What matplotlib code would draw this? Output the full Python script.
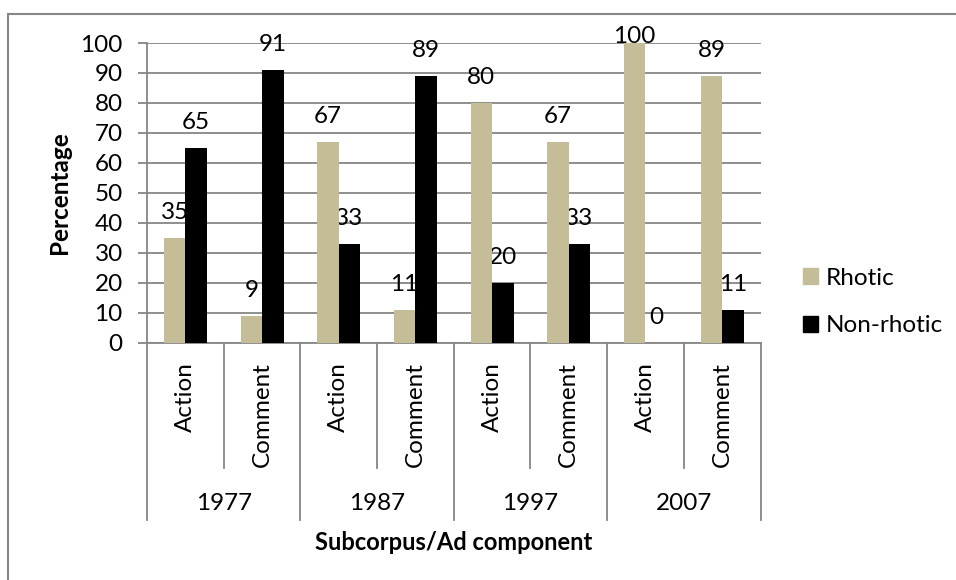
import matplotlib
matplotlib.use("Agg")
import matplotlib.pyplot as plt
import matplotlib.patches as mpatches
from matplotlib.transforms import blended_transform_factory
import numpy as np

plt.rcParams['font.family'] = ['Lato', 'DejaVu Sans']

# ── 데이터 ────────────────────────────────────────────────
years = ["1977", "1987", "1997", "2007"]
components = ["Action", "Comment"]
rhotic = [35, 9, 67, 11, 80, 67, 100, 89]
non_rhotic = [65, 91, 33, 89, 20, 33, 0, 11]
series_names = ["Rhotic", "Non-rhotic"]

TAN = "#C4BD97"
GRID = "#868686"
FS = 17.5

W, H = 956, 580
fig = plt.figure(figsize=(W / 100, H / 100), dpi=100)

# plot area in pixel terms
left, right, top, bottom = 147, 760.5, 43, 342.5
ax = fig.add_axes([left / W, 1 - bottom / H, (right - left) / W, (bottom - top) / H])

n = len(rhotic)
x = np.arange(n) + 0.5
bw = 0.28
ax.bar(x - bw / 2, rhotic, bw, color=TAN, zorder=3, label=series_names[0])
ax.bar(x + bw / 2, non_rhotic, bw, color="black", zorder=3, label=series_names[1])

# data labels (clamped at top of plot area)
for xi, v in zip(x - bw / 2, rhotic):
    ax.text(xi, min(v + 6.3, 100), str(v), ha="center", va="baseline",
            fontsize=FS, zorder=2.5, clip_on=False)
for xi, v in zip(x + bw / 2, non_rhotic):
    ax.text(xi, min(v + 6.3, 100), str(v), ha="center", va="baseline",
            fontsize=FS, zorder=2.5, clip_on=False)

ax.set_xlim(0, n)
ax.set_ylim(0, 100)
ax.set_yticks(np.arange(0, 101, 10))
ax.yaxis.grid(True, color=GRID, linewidth=1.3)
ax.set_axisbelow(True)
ax.tick_params(axis="y", length=6.5, width=1.3, color=GRID, pad=11, labelsize=FS)
ax.set_xticks([])
for s in ["top", "right"]:
    ax.spines[s].set_visible(False)
for s in ["left", "bottom"]:
    ax.spines[s].set_color(GRID)
    ax.spines[s].set_linewidth(1.3)

ax.set_ylabel("Percentage", fontsize=FS, fontweight="bold", labelpad=7)

# ── 다단계 카테고리 축 ────────────────────────────────────
tr = blended_transform_factory(ax.transData, fig.transFigure)
y_axis = 1 - bottom / H
y_inner = 1 - 468 / H
y_outer = 1 - 520 / H
for k in range(n + 1):
    y_end = y_outer if k % 2 == 0 else y_inner
    ax.plot([k, k], [y_axis, y_end], color=GRID, lw=1.3, transform=tr, clip_on=False)

for k in range(n):
    ax.text(x[k], 1 - 362 / H, components[k % 2], rotation=90, ha="center", va="top",
            fontsize=FS, transform=tr)
for j, yr in enumerate(years):
    ax.text(2 * j + 1, 1 - 503 / H, yr, ha="center", va="center", fontsize=FS, transform=tr)

fig.text((left + right) / 2 / W, 1 - 543 / H, "Subcorpus/Ad component", ha="center",
         va="center", fontsize=17, fontweight="bold")

# 범례
handles = [mpatches.Patch(color=TAN, label=series_names[0]),
           mpatches.Patch(color="black", label=series_names[1])]
fig.legend(handles=handles, loc="center left", bbox_to_anchor=(803 / W, 1 - 302 / H),
           frameon=False, fontsize=FS, handlelength=0.62, handleheight=0.62,
           handletextpad=0.3, labelspacing=1.1, borderpad=0, borderaxespad=0)

# 차트 외곽선
fig.add_artist(mpatches.Rectangle((8 / W, -0.05), 1.0, 1 - 14 / H + 0.05,
                                  transform=fig.transFigure, fill=False,
                                  edgecolor=GRID, linewidth=1.5))

fig.savefig("out.png", dpi=100)
